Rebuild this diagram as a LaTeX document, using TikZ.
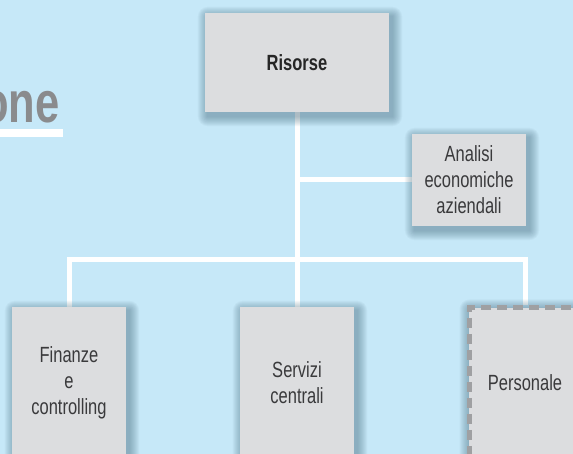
\documentclass[tikz,border=0pt]{standalone}
\usepackage{fontspec}
\setmainfont{Liberation Sans}[FakeStretch=0.75]
\usetikzlibrary{backgrounds}
\definecolor{sky}{HTML}{C6E8F8}
\definecolor{boxgray}{HTML}{DCDDDF}
\definecolor{txtgray}{HTML}{3A3A3C}
\definecolor{titlegray}{HTML}{8A8B8D}
\definecolor{dashgray}{HTML}{9FA0A2}
\definecolor{shadecol}{HTML}{3E6478}
\begin{document}
\begin{tikzpicture}[x=1pt, y=1pt,
  box/.style={rectangle, fill=boxgray, text=txtgray, align=center,
    font=\fontsize{22}{26}\selectfont, inner sep=0pt},
  link/.style={white, line width=5pt}]
\useasboundingbox (0,0) rectangle (573,454);

\node (title) at (63, 331) [anchor=base east, text=titlegray, font=\fontsize{58}{58}\selectfont\bfseries] {one};

\node (ris) at (297, 391.5) [box, minimum width=184pt, minimum height=99pt, font=\fontsize{22}{26}\selectfont\bfseries, text=black!85] {Risorse};
\node (ana) at (469, 274) [box, minimum width=114pt, minimum height=92pt] {Analisi\\economiche\\aziendali};
\node (fin) at (69, 71) [box, minimum width=114pt, minimum height=152pt] {Finanze\\e\\controlling};
\node (serv) at (297, 71) [box, minimum width=114pt, minimum height=152pt] {Servizi\\centrali};
\node (pers) at (525, 71) [box, minimum width=112pt, minimum height=150pt, draw=dashgray, line width=5pt, dash pattern=on 10pt off 6pt] {Personale};

\coordinate (bar) at (297, 194);

\begin{pgfonlayer}{background}
\fill[sky] (0,0) rectangle (573,454);
\fill[white] (0,317) rectangle (63,325);
\draw[link] (ris.south) to (bar);
\draw[link] (ris.south |- ana.west) to (ana.west);
\draw[link] (fin.north) |- (bar) -| (pers.north);
\draw[link] (bar) to (serv.north);
% soft shadows
\foreach \n in {ris,ana,fin,serv,pers}
  \foreach \e in {1,...,10}
    \fill[shadecol, opacity=0.05, rounded corners=\e pt]
      ([shift={({3-\e},{-4-\e})}]\n.south west) rectangle ([shift={({3+\e},{-4+\e})}]\n.north east);
\end{pgfonlayer}
\end{tikzpicture}
\end{document}
